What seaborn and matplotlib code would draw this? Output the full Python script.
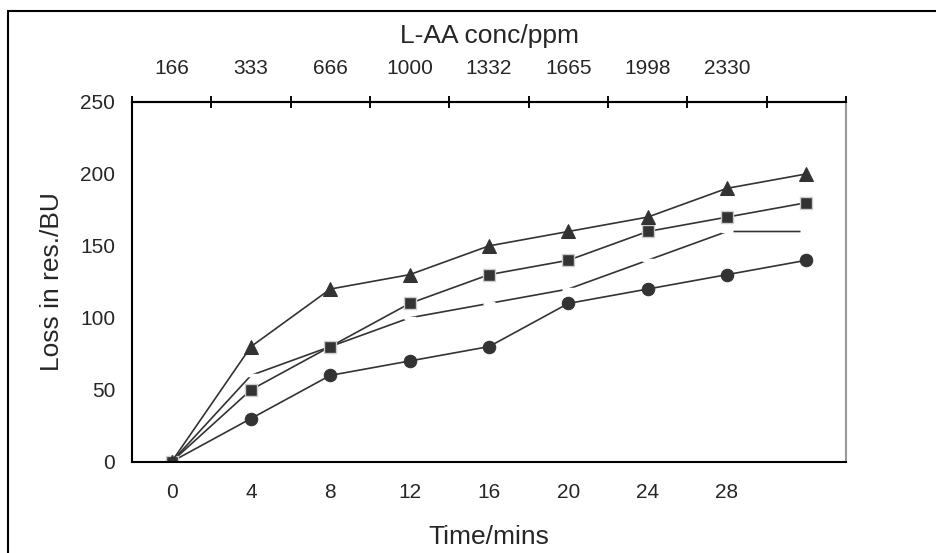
import numpy as np
import pandas as pd
import matplotlib.pyplot as plt
import seaborn as sns
from matplotlib.patches import Rectangle

# Data
time_labels = ['0', '4', '8', '12', '16', '20', '24', '28', '']
conc_labels = ['166', '333', '666', '1000', '1332', '1665', '1998', '2330', '']
triangle_vals = [0, 80, 120, 130, 150, 160, 170, 190, 200]
square_vals = [0, 50, 80, 110, 130, 140, 160, 170, 180]
dash_vals = [0, 60, 80, 100, 110, 120, 140, 160, 160]
circle_vals = [0, 30, 60, 70, 80, 110, 120, 130, 140]

sns.set_style('white')
plt.rcParams['font.family'] = ['Liberation Sans', 'DejaVu Sans']

idx = np.arange(len(time_labels))
df = pd.DataFrame({
    'idx': np.tile(idx, 4),
    'loss': triangle_vals + square_vals + dash_vals + circle_vals,
    'series': ['tri'] * 9 + ['sq'] * 9 + ['dash'] * 9 + ['circ'] * 9,
})

fig = plt.figure(figsize=(9.37, 5.53), dpi=100)
ax = fig.add_axes([132 / 937, 1 - 461.7 / 553, 714 / 937, 359.7 / 553])

line_col = '#333333'
styles = {
    'tri': dict(marker='^', markersize=10, markerfacecolor=line_col, markeredgecolor=line_col),
    'sq': dict(marker='s', markersize=9, markerfacecolor=line_col, markeredgecolor='#cccccc',
               markeredgewidth=1),
    'dash': dict(marker='_', markersize=9, markeredgecolor='white', markeredgewidth=2.5),
    'circ': dict(marker='o', markersize=9, markerfacecolor=line_col, markeredgecolor=line_col),
}
for name in ['dash', 'circ', 'sq', 'tri']:
    sub = df[df['series'] == name]
    sns.lineplot(data=sub, x='idx', y='loss', ax=ax, color=line_col, linewidth=1.2,
                 legend=False, **styles[name])

bounds = np.arange(len(time_labels) + 1) - 0.5
ax.set_xlim(-0.5, len(time_labels) - 0.5)
ax.set_ylim(0, 250)
ax.set_yticks(np.arange(0, 251, 50))
ax.set_xticks(bounds, labels=[''] * len(bounds))
ax.set_xticks(idx, labels=time_labels, minor=True)
ax.tick_params(axis='both', which='major', direction='inout', length=9, width=1.2,
               color='black', labelsize=15, pad=7.5)
ax.tick_params(axis='x', which='minor', length=0, labelsize=15, pad=15)
ax.tick_params(axis='x', which='major', top=True)

ax.set_xlabel('Time/mins', fontsize=19, labelpad=17)
ax.set_ylabel('Loss in res./BU', fontsize=19, labelpad=12)

sec = ax.secondary_xaxis('top')
sec.set_xticks(bounds, labels=[''] * len(bounds))
sec.set_xticks(idx, labels=conc_labels, minor=True)
sec.tick_params(which='major', direction='inout', length=9, width=1.2)
sec.tick_params(which='minor', length=0, labelsize=15, pad=17)
sec.set_xlabel('L-AA conc/ppm', fontsize=19, labelpad=12)
sec.spines['top'].set_linewidth(1.5)

for side in ['left', 'bottom', 'top']:
    ax.spines[side].set_color('black')
    ax.spines[side].set_linewidth(1.5)
ax.spines['right'].set_color('#999999')
ax.spines['right'].set_linewidth(1.5)

# outer chart frame, cut off at right and bottom
fig.add_artist(Rectangle((8 / 937, -0.1), 1.2, 1.1 - 11 / 553, transform=fig.transFigure,
                         fill=False, edgecolor='black', linewidth=1.5))

fig.savefig('out.png', dpi=100)
